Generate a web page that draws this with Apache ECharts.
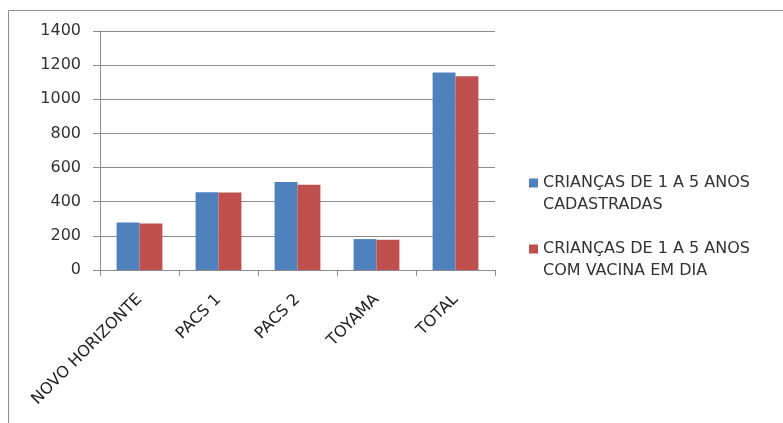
<!DOCTYPE html>
<html><head><meta charset="utf-8">
<script src="https://cdn.jsdelivr.net/npm/echarts@6/dist/echarts.min.js"></script>
<style>html,body{margin:0;padding:0;background:#fff}#c{width:783px;height:423px}</style>
</head><body><div id="c"></div>
<script>
const categories = ['NOVO HORIZONTE', 'PACS 1', 'PACS 2', 'TOYAMA', 'TOTAL'];
const cadastradas = [278, 455, 515, 181, 1157];
const vacinaEmDia = [273, 454, 500, 177, 1135];
const seriesNames = ['CRIANÇAS DE 1 A 5 ANOS\nCADASTRADAS', 'CRIANÇAS DE 1 A 5 ANOS\nCOM VACINA EM DIA'];

const chart = echarts.init(document.getElementById('c'), null, {renderer: 'canvas'});
const font = '"DejaVu Sans", sans-serif';
chart.setOption({
  animation: false,
  textStyle: {fontFamily: font},
  graphic: [{
    type: 'rect', shape: {x: 8.5, y: 10.5, width: 800, height: 450},
    style: {fill: 'none', stroke: '#8c8c8c', lineWidth: 1}, z: -1
  }],
  grid: {left: 100, top: 31, width: 395, height: 239, containLabel: false},
  legend: {
    orient: 'vertical', left: 524, top: 167, itemWidth: 9, itemHeight: 44, itemGap: 22,
    icon: 'path://M0,0L0.001,0M0,6.5h9v9h-9zM0,44L0.001,44',
    textStyle: {fontFamily: font, fontSize: 16, color: '#333', lineHeight: 22},
    data: seriesNames
  },
  xAxis: {
    type: 'category', data: categories,
    axisLine: {lineStyle: {color: '#8c8c8c'}},
    axisTick: {show: true, length: 6, lineStyle: {color: '#8c8c8c'}},
    axisLabel: {rotate: 45, fontSize: 16, color: '#222', fontFamily: font, margin: 27, interval: 0}
  },
  yAxis: {
    type: 'value', min: 0, max: 1400, interval: 200,
    axisLine: {show: true, lineStyle: {color: '#8c8c8c'}},
    axisTick: {show: true, length: 7, inside: false, lineStyle: {color: '#8c8c8c'}},
    splitLine: {lineStyle: {color: '#8c8c8c'}},
    axisLabel: {fontSize: 16, color: '#333', fontFamily: font, margin: 19, formatter: v => String(v)}
  },
  series: [
    {name: seriesNames[0], type: 'bar', data: cadastradas, barGap: '0%', barCategoryGap: '42%',
     itemStyle: {color: '#4F81BD'}},
    {name: seriesNames[1], type: 'bar', data: vacinaEmDia,
     itemStyle: {color: '#C0504D'}}
  ]
});
</script></body></html>
